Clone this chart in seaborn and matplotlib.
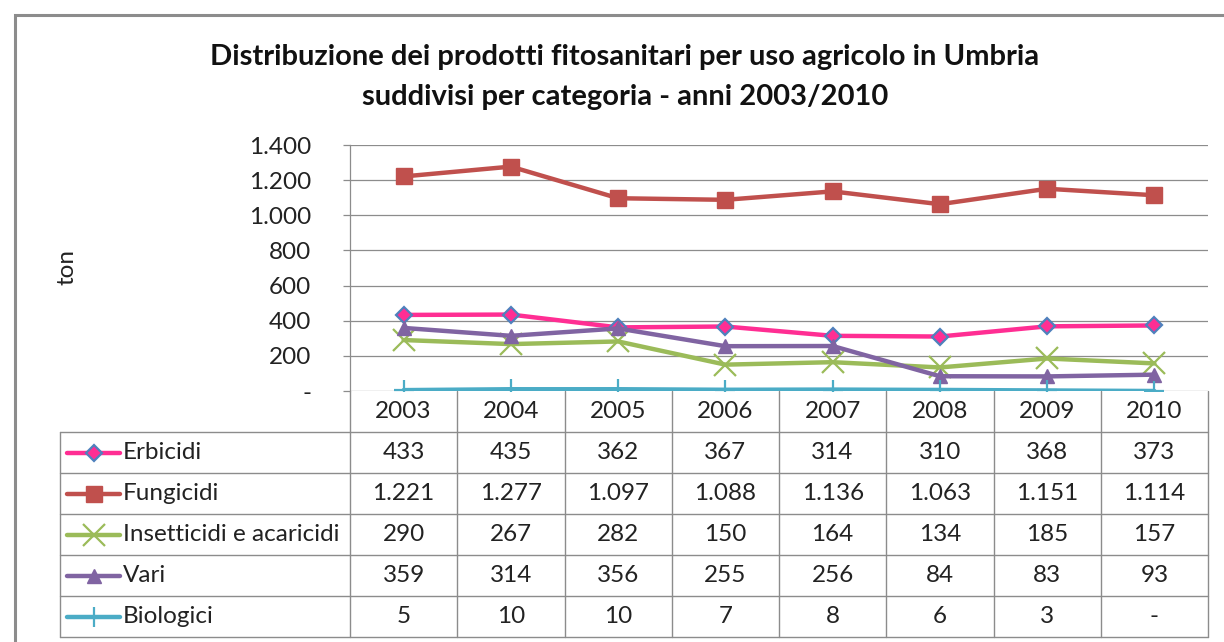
import matplotlib
matplotlib.use('Agg')
import matplotlib.pyplot as plt
import matplotlib.patches as patches
from matplotlib.lines import Line2D
from matplotlib.ticker import FuncFormatter
import numpy as np
import pandas as pd
import seaborn as sns

# data
years = ['2003', '2004', '2005', '2006', '2007', '2008', '2009', '2010']
erbicidi = [433, 435, 362, 367, 314, 310, 368, 373]
fungicidi = [1221, 1277, 1097, 1088, 1136, 1063, 1151, 1114]
insetticidi = [290, 267, 282, 150, 164, 134, 185, 157]
vari = [359, 314, 356, 255, 256, 84, 83, 93]
biologici = [5, 10, 10, 7, 8, 6, 3, 0]

categories = ['Erbicidi', 'Fungicidi', 'Insetticidi e acaricidi', 'Vari', 'Biologici']
series = [erbicidi, fungicidi, insetticidi, vari, biologici]
colors = ['#FF2E93', '#C0504D', '#9BBB59', '#8064A2', '#4BACC6']
markers = ['D', 's', 'x', '^', '+']
msizes = [8.5, 11, 16, 10, 15]

df = pd.DataFrame({
    'cat': np.repeat(categories, len(years)),
    'pos': np.tile(np.arange(len(years)), len(categories)),
    'ton': np.concatenate(series),
})

def fmt_it(v):
    if v == 0:
        return '-'
    return '{:,.0f}'.format(v).replace(',', '.')

def marker_style(c, m, s):
    return dict(marker=m, markersize=s, markerfacecolor=c,
                markeredgecolor='#4F81BD' if m == 'D' else c,
                markeredgewidth=1.6 if m in ('x', '+', 'D') else 1)

sns.set_style('white')
plt.rcParams['font.family'] = ['Lato', 'DejaVu Sans']

W, H = 1224, 642
FS = 17.5
TXT = '#222222'
fig = plt.figure(figsize=(W / 100, H / 100), dpi=100)

def fx(px):
    return px / W

def fy(py):
    return 1 - py / H

# outer chart frame
fig.patches.append(patches.Rectangle((fx(15), -0.2), 2, fy(15) + 0.2,
                                     transform=fig.transFigure, fill=False,
                                     edgecolor='#8C8C8C', linewidth=2.2))

# plot area
left, right, top, base, tbot = 350, 1208, 145, 391, 637
ax = fig.add_axes([fx(left), fy(base), fx(right - left), (base - top) / H])

for cat, c, m, s in zip(categories, colors, markers, msizes):
    sub = df[df.cat == cat]
    sns.lineplot(data=sub, x='pos', y='ton', color=c, linewidth=3.2,
                 ax=ax, legend=False, **marker_style(c, m, s))

ax.set_xlim(-0.5, len(years) - 0.5)
ax.set_ylim(0, 1400)
ax.set_yticks(np.arange(0, 1401, 200))
ax.yaxis.set_major_formatter(FuncFormatter(lambda v, p: fmt_it(v)))
ax.set_xticks([])
ax.grid(axis='y', color='#8C8C8C', linewidth=0.9)
for side in ['top', 'right', 'bottom']:
    ax.spines[side].set_visible(False)
ax.spines['left'].set_color('#8C8C8C')
ax.spines['left'].set_linewidth(0.9)
ax.tick_params(axis='y', which='major', left=True, length=5, width=0.9,
               color='#8C8C8C', labelsize=FS, labelcolor=TXT, pad=23)
ax.set_xlabel('')
ax.set_ylabel('')
fig.text(fx(67), fy(267), 'ton', rotation=90, ha='center', va='center',
         fontsize=FS, color=TXT)

# title
fig.text(fx(625), fy(57), 'Distribuzione dei prodotti fitosanitari per uso agricolo in Umbria',
         ha='center', va='center', fontsize=21, fontweight='bold', color='#111111')
fig.text(fx(625), fy(97), 'suddivisi per categoria - anni 2003/2010',
         ha='center', va='center', fontsize=21, fontweight='bold', color='#111111')

# data table below the plot, sharing the year columns
colw = (right - left) / len(years)
tleft = 60
tab = fig.add_axes([fx(tleft), fy(tbot), fx(right - tleft), (tbot - base) / H])
x0 = -0.5 - (left - tleft) / colw
tab.set_xlim(x0, len(years) - 0.5)
nrows = len(categories) + 1
tab.set_ylim(nrows, 0)
tab.axis('off')
gc = '#8C8C8C'
lw = 1.0

# horizontal lines
for r in range(1, nrows + 1):
    tab.plot([x0, len(years) - 0.5], [r, r], color=gc, lw=lw, clip_on=False)
# vertical lines
for i in range(len(years) + 1):
    tab.plot([i - 0.5, i - 0.5], [0, nrows], color=gc, lw=lw, clip_on=False)
tab.plot([x0, x0], [1, nrows], color=gc, lw=lw, clip_on=False)

for i, yr in enumerate(years):
    tab.text(i, 0.5, yr, ha='center', va='center', fontsize=FS, color=TXT)

def px2d(px):
    return (px - left) / colw - 0.5

for r, (cat, vals, c, m, s) in enumerate(zip(categories, series, colors, markers, msizes), start=1):
    yc = r + 0.5
    tab.add_line(Line2D([px2d(67), px2d(120)], [yc, yc], color=c, lw=3.2,
                        solid_capstyle='round'))
    tab.add_line(Line2D([px2d(93.5)], [yc], linestyle='none', **marker_style(c, m, s)))
    tab.text(px2d(123), yc, cat, ha='left', va='center', fontsize=FS, color=TXT)
    for i, v in enumerate(vals):
        tab.text(i, yc, fmt_it(v), ha='center', va='center', fontsize=FS, color=TXT)

fig.savefig('out.png', dpi=100)
